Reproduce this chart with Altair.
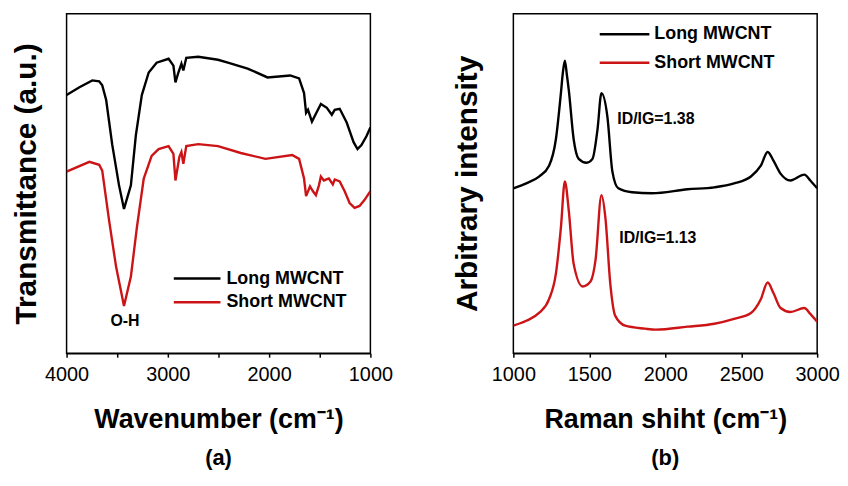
import altair as alt
import pandas as pd

FONT = "Liberation Sans"
RED = "#cc1417"
SERIES = ["Long MWCNT", "Short MWCNT"]

# ---- (a) FTIR ----
ftir_long_wn = [4000, 3873, 3746, 3678, 3648, 3609, 3550, 3482, 3433, 3365, 3316, 3257, 3189, 3111,
                2993, 2945, 2925, 2896, 2866, 2847, 2818, 2700, 2505, 2407, 2212, 2016, 1792, 1704,
                1655, 1635, 1616, 1577, 1528, 1489, 1430, 1381, 1352, 1303, 1234, 1166, 1127, 1088,
                1039, 1000]
ftir_long_t = [263, 271, 278, 277, 273, 258, 213, 171, 147, 171, 222, 263, 286, 296,
               300, 293, 276, 286, 295, 288, 301, 302, 299, 296, 290, 281, 283, 280,
               265, 245, 248, 236, 246, 254, 250, 243, 248, 249, 235, 215, 208, 212,
               221, 230]
ftir_short_wn = [4000, 3775, 3678, 3648, 3580, 3511, 3433, 3365, 3306, 3238, 3160, 3091, 2993, 2945,
                 2925, 2886, 2866, 2847, 2818, 2700, 2505, 2280, 2036, 1772, 1704, 1655, 1635, 1596,
                 1567, 1538, 1508, 1489, 1459, 1410, 1371, 1352, 1303, 1254, 1205, 1156, 1107, 1059,
                 1000]
ftir_short_t = [185, 195, 192, 186, 135, 88, 48, 78, 128, 178, 201, 208, 211, 203,
                176, 200, 205, 193, 211, 213, 211, 204, 198, 202, 198, 178, 160, 170,
                165, 161, 171, 180, 176, 178, 172, 177, 175, 165, 153, 148, 150, 156,
                165]

# ---- (b) Raman ----
raman_long_rs = [1000, 1085, 1169, 1235, 1280, 1313, 1326, 1339, 1352, 1365, 1397, 1430, 1482, 1521,
                 1554, 1580, 1619, 1652, 1691, 1782, 1912, 2147, 2323, 2453, 2564, 2629, 2674, 2713,
                 2759, 2824, 2915, 2955, 3000]
raman_long_i = [168, 173, 180, 191, 218, 265, 286, 298, 284, 268, 218, 198, 194, 198,
                228, 265, 241, 185, 168, 164, 163, 167, 169, 173, 180, 191, 205, 196,
                183, 176, 182, 176, 168]
raman_short_rs = [1000, 1085, 1169, 1235, 1280, 1313, 1339, 1365, 1397, 1456, 1508, 1541, 1580, 1606,
                  1638, 1671, 1736, 1866, 1938, 2147, 2323, 2453, 2564, 2629, 2674, 2713, 2759, 2824,
                  2915, 2955, 3000]
raman_short_i = [28, 33, 41, 55, 81, 128, 175, 145, 91, 68, 73, 95, 161, 138,
                 71, 38, 28, 25, 24, 27, 30, 35, 41, 55, 72, 61, 46, 42,
                 46, 40, 32]

ftir_ann_text = ["O-H"]
ftir_ann_x = [3423]
ftir_ann_y = [33]
raman_ann_text = ["ID/IG=1.38", "ID/IG=1.13"]
raman_ann_x = [1684, 1697]
raman_ann_y = [239, 117]

W, H = 306, 342
YDOM = [0, 346]
color_scale = alt.Scale(domain=SERIES, range=["#000000", RED])


def frame(xs_long, ys_long, xs_short, ys_short):
    return pd.concat([
        pd.DataFrame({"x": xs_long, "y": ys_long, "series": SERIES[0], "o": range(len(xs_long))}),
        pd.DataFrame({"x": xs_short, "y": ys_short, "series": SERIES[1], "o": range(len(xs_short))}),
    ])


def panel(df, xscale, xvalues, label_step, xtitle, ytitle, ytitle_pad, interp,
          ann_df, ann_align, leg_x0, leg_x1, leg_xt, leg_top, leg_dy, caption):
    xaxis = alt.Axis(values=xvalues, format="d",
                     labelExpr=f"datum.value % {label_step} == 0 ? datum.label : ''",
                     labelFont=FONT, labelFontSize=20, labelColor="black", labelPadding=8,
                     labelFlush=False, labelOverlap=False,
                     tickSize=4, tickColor="black", tickWidth=1.5,
                     domainColor="black", domainWidth=1.5, grid=False,
                     title=xtitle, titleFont=FONT, titleFontSize=27, titleFontWeight="bold",
                     titleColor="black", titlePadding=22)
    yaxis = alt.Axis(labels=False, ticks=False, domain=False, grid=False,
                     title=ytitle, titleFont=FONT, titleFontSize=30, titleFontWeight="bold",
                     titleColor="black", titlePadding=ytitle_pad)
    lines = alt.Chart(df).mark_line(strokeWidth=2.4, interpolate=interp, clip=True).encode(
        x=alt.X("x:Q", scale=xscale, axis=xaxis),
        y=alt.Y("y:Q", scale=alt.Scale(domain=YDOM, nice=False, zero=False), axis=yaxis),
        color=alt.Color("series:N", scale=color_scale, legend=None),
        order="o:Q",
    )
    ann = alt.Chart(ann_df).mark_text(font=FONT, fontSize=16, fontWeight="bold", color="black",
                                      align=ann_align, baseline="middle").encode(
        x=alt.X("x:Q", scale=xscale),
        y=alt.Y("y:Q", scale=alt.Scale(domain=YDOM, nice=False, zero=False)),
        text="t:N",
    )
    leg = alt.Chart(pd.DataFrame({"series": SERIES, "row": [0, 1]})).transform_calculate(
        ly=f"{leg_top} - datum.row * {leg_dy}")
    leg_rules = leg.mark_rule(strokeWidth=2.5).encode(
        x=alt.value(leg_x0), x2=alt.value(leg_x1),
        y=alt.Y("ly:Q", scale=alt.Scale(domain=YDOM, nice=False, zero=False)),
        color=alt.Color("series:N", scale=color_scale, legend=None),
    )
    leg_text = leg.mark_text(font=FONT, fontSize=18, fontWeight="bold", color="black",
                             align="left", baseline="middle").encode(
        x=alt.value(leg_xt),
        y=alt.Y("ly:Q", scale=alt.Scale(domain=YDOM, nice=False, zero=False)),
        text="series:N",
    )
    return alt.layer(lines, ann, leg_rules, leg_text).properties(
        width=W, height=H,
        title=alt.TitleParams(caption, orient="bottom", font=FONT, fontSize=22, fontWeight="bold",
                              color="black", offset=16, anchor="middle"),
    )


df_a = frame(ftir_long_wn, ftir_long_t, ftir_short_wn, ftir_short_t)
df_b = frame(raman_long_rs, raman_long_i, raman_short_rs, raman_short_i)
ann_a = pd.DataFrame({"x": ftir_ann_x, "y": ftir_ann_y, "t": ftir_ann_text})
ann_b = pd.DataFrame({"x": raman_ann_x, "y": raman_ann_y, "t": raman_ann_text})

pa = panel(df_a, alt.Scale(domain=[1000, 4000], reverse=True, nice=False, zero=False),
           list(range(1000, 4001, 500)), 1000, "Wavenumber (cm⁻¹)", "Transmittance (a.u.)", 25,
           "linear", ann_a, "center", 108, 155, 161, 76, 24, "(a)")
pb = panel(df_b, alt.Scale(domain=[1000, 3000], nice=False, zero=False),
           list(range(1000, 3001, 250)), 500, "Raman shiht (cm⁻¹)", "Arbitrary intensity", 31,
           "monotone", ann_b, "left", 87, 137, 142, 325, 29, "(b)")

chart = alt.hconcat(pa, pb, spacing=59).properties(
    padding={"left": 3, "top": 3, "right": 0, "bottom": 0}
).configure_view(stroke="black", strokeWidth=1.5)

chart.save("out.html", embed_options={"renderer": "svg", "actions": False})
